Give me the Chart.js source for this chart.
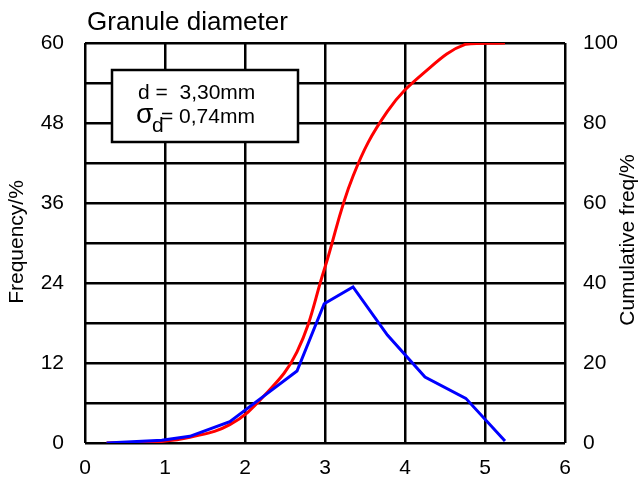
<!DOCTYPE html>
<html>
<head>
<meta charset="utf-8">
<script src="https://cdn.jsdelivr.net/npm/chart.js@4/dist/chart.umd.min.js"></script>
<style>
  html, body { margin: 0; padding: 0; background: #fff; }
  #wrap { width: 640px; height: 477px; }
</style>
</head>
<body>
<div id="wrap"><canvas id="granChart" width="640" height="477"></canvas></div>
<script>
// granule diameter (mm) at each sieve class
const diameters = [0.27, 0.96, 1.31, 1.81, 2.23, 2.65, 2.99, 3.35, 3.78, 4.25, 4.76, 5.25];
// frequency in %
const frequency = [0, 0.4, 1.0, 3.2, 7.0, 10.8, 20.9, 23.4, 16.2, 9.9, 6.7, 0.3];
// cumulative frequency in %
const cumulative = [0, 0.4, 1.4, 4.6, 11.6, 22.8, 43.3, 66.7, 82.9, 92.8, 99.7, 100];

const xTicks = [0, 1, 2, 3, 4, 5, 6];
const freqTicks = [0, 12, 24, 36, 48, 60];
const cumTicks = [0, 20, 40, 60, 80, 100];

const titleText = 'Granule diameter';
const leftTitle = 'Frequency/%';
const rightTitle = 'Cumulative freq/%';
const statLines = ['d =  3,30mm', '= 0,74mm'];

const FONT = 'Arial, "Liberation Sans", sans-serif';

const textPlugin = {
    id: 'textPlugin',
    afterDraw(chart) {
        const ctx = chart.ctx;
        const area = chart.chartArea;
        ctx.save();
        ctx.fillStyle = '#000';
        ctx.textBaseline = 'alphabetic';
        ctx.textAlign = 'left';

        // title
        ctx.font = '26px ' + FONT;
        ctx.fillText(titleText, area.left + 2, 30);

        // axis titles, both reading bottom to top
        ctx.font = '21px ' + FONT;
        ctx.textAlign = 'center';
        ctx.textBaseline = 'middle';
        ctx.save();
        ctx.translate(17, 242);
        ctx.rotate(-Math.PI / 2);
        ctx.fillText(leftTitle, 0, 0);
        ctx.restore();
        ctx.save();
        ctx.translate(628, 240);
        ctx.rotate(-Math.PI / 2);
        ctx.fillText(rightTitle, 0, 0);
        ctx.restore();

        // stats box
        const bx = area.left + 27, by = area.top + 27, bw = 186, bh = 72;
        ctx.fillStyle = '#fff';
        ctx.fillRect(bx, by, bw, bh);
        ctx.strokeStyle = '#000';
        ctx.lineWidth = 2.5;
        ctx.strokeRect(bx, by, bw, bh);

        ctx.fillStyle = '#000';
        ctx.textAlign = 'left';
        ctx.textBaseline = 'alphabetic';
        ctx.font = '21px ' + FONT;
        ctx.fillText(statLines[0], bx + 26, by + 29);
        ctx.font = '28px ' + FONT;
        ctx.fillText('σ', bx + 24, by + 53);
        ctx.font = '21px ' + FONT;
        ctx.fillText('d', bx + 40, by + 62);
        ctx.fillText(statLines[1], bx + 49, by + 53);
        ctx.restore();
    }
};

const ctx = document.getElementById('granChart').getContext('2d');
new Chart(ctx, {
    type: 'line',
    data: {
        datasets: [
            {
                label: 'Frequency',
                data: diameters.map((d, i) => ({ x: d, y: frequency[i] })),
                borderColor: '#0000ff',
                borderWidth: 3,
                pointRadius: 0,
                tension: 0,
                yAxisID: 'y'
            },
            {
                label: 'Cumulative freq',
                data: diameters.map((d, i) => ({ x: d, y: cumulative[i] })),
                borderColor: '#ff0000',
                borderWidth: 3,
                pointRadius: 0,
                tension: 0.4,
                yAxisID: 'y2'
            }
        ]
    },
    options: {
        responsive: false,
        animation: false,
        layout: { padding: { top: 43, right: 0, left: 0, bottom: 0 } },
        plugins: {
            legend: { display: false },
            tooltip: { enabled: false }
        },
        scales: {
            x: {
                type: 'linear',
                min: 0,
                max: 6,
                afterBuildTicks: (s) => { s.ticks = xTicks.map(v => ({ value: v })); },
                afterFit: (s) => { s.height = 34; },
                grid: { color: '#000', lineWidth: 2.5, drawTicks: false },
                border: { display: false },
                ticks: { color: '#000', font: { size: 21, family: FONT }, padding: 13 }
            },
            y: {
                position: 'left',
                min: 0,
                max: 60,
                afterBuildTicks: (s) => {
                    const t = [];
                    for (let v = 0; v <= 60; v += 6) t.push({ value: v });
                    s.ticks = t;
                },
                afterFit: (s) => { s.width = 85; },
                grid: { color: '#000', lineWidth: 2.5, drawTicks: false },
                border: { display: false },
                ticks: {
                    color: '#000',
                    font: { size: 21, family: FONT },
                    padding: 21,
                    callback: (v) => freqTicks.includes(v) ? v : ''
                }
            },
            y2: {
                position: 'right',
                min: 0,
                max: 100,
                afterBuildTicks: (s) => { s.ticks = cumTicks.map(v => ({ value: v })); },
                afterFit: (s) => { s.width = 75; },
                grid: { display: false, drawTicks: false },
                border: { display: false },
                ticks: { color: '#000', font: { size: 21, family: FONT }, padding: 18 }
            }
        }
    },
    plugins: [textPlugin]
});
</script>
</body>
</html>
